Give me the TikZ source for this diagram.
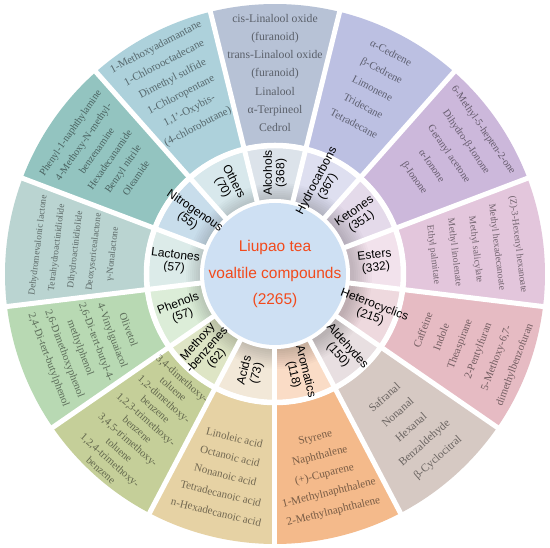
\documentclass[tikz,border=0pt]{standalone}
\usepackage{fontspec}
\setmainfont{Liberation Serif}
\newfontfamily\arialf{Liberation Sans}
\definecolor{aloO}{HTML}{B7C2D6}\definecolor{aloM}{HTML}{DCE3EA}
\definecolor{hyO}{HTML}{BCC0E2}\definecolor{hyM}{HTML}{DEDFF0}
\definecolor{keO}{HTML}{CCB8DB}\definecolor{keM}{HTML}{E4DAEA}
\definecolor{esO}{HTML}{E3C6DC}\definecolor{esM}{HTML}{F2E2EC}
\definecolor{heO}{HTML}{E6BBC3}\definecolor{heM}{HTML}{EED9DE}
\definecolor{alO}{HTML}{D6C9C3}\definecolor{alM}{HTML}{E8DFE1}
\definecolor{arO}{HTML}{F4BA8B}\definecolor{arM}{HTML}{FADCC6}
\definecolor{acO}{HTML}{E6D2A4}\definecolor{acM}{HTML}{F2E8D8}
\definecolor{meO}{HTML}{C5CF99}\definecolor{meM}{HTML}{DEE5C5}
\definecolor{phO}{HTML}{B8D9B3}\definecolor{phM}{HTML}{DCEDD8}
\definecolor{laO}{HTML}{BAD4D1}\definecolor{laM}{HTML}{DCEBE9}
\definecolor{niO}{HTML}{93C4C0}\definecolor{niM}{HTML}{C8DDEB}
\definecolor{otO}{HTML}{ADD1DB}\definecolor{otM}{HTML}{D8E8EC}
\definecolor{cenC}{HTML}{CEE0F3}
\definecolor{cenT}{HTML}{F24A1C}
\begin{document}
\begin{tikzpicture}[x=1pt,y=1pt,
  otxt/.style 2 args={font=\fontsize{#1}{#2}\selectfont, text=black, text opacity=0.5, align=center, inner sep=0pt},
  mtxt/.style={font=\arialf\fontsize{12}{12.5}\selectfont, align=center, inner sep=0pt, text=black}]
\useasboundingbox (-275,-274) rectangle (275,274);
\fill[white] (-275,-274) rectangle (275,274);
% sectors
\foreach \k/\oc/\mc in {0/aloO/aloM,1/hyO/hyM,2/keO/keM,3/esO/esM,4/heO/heM,5/alO/alM,6/arO/arM,7/acO/acM,8/meO/meM,9/phO/phM,10/laO/laM,11/niO/niM,12/otO/otM}{
  \pgfmathsetmacro\sa{90-\k*360/13-180/13}
  \pgfmathsetmacro\ea{90-\k*360/13+180/13}
  \fill[\oc] (\sa:131) arc[start angle=\sa,end angle=\ea,radius=131] -- (\ea:270) arc[start angle=\ea,end angle=\sa,radius=270] -- cycle;
  \fill[\mc] (\sa:75) arc[start angle=\sa,end angle=\ea,radius=75] -- (\ea:126) arc[start angle=\ea,end angle=\sa,radius=126] -- cycle;
}
% soft drop shadow of the centre disc (offset to the right)
\foreach \i in {1,...,10}{\fill[black, opacity=0.02] (4,-2) circle ({73+\i*2});}
% white gaps
\foreach \k in {0,...,12}{
  \pgfmathsetmacro\sa{90-\k*360/13+180/13}
  \draw[white, line width=5] (\sa:74) -- (\sa:273);
}
\draw[white, line width=5.5] (0,0) circle (128.5);
\fill[white] (0,0) circle (75);
\fill[cenC] (0,0) circle (71);
% centre text
\node[font=\arialf\fontsize{15.5}{26.5}\selectfont, text=cenT, align=center] (ctr) at (0,0) {Liupao tea\\voaltile compounds\\(2265)};
% middle ring labels
\node[mtxt, rotate=90] (mAlc) at (90:101) {Alcohols\\(368)};
\node[mtxt, rotate=62.31] (mHyd) at (62.31:102) {Hydrocarbons\\(367)};
\node[mtxt, rotate=34.62] (mKet) at (34.62:101) {Ketones\\(351)};
\node[mtxt, rotate=6.92] (mEst) at (6.92:101) {Esters\\(332)};
\node[mtxt, rotate=-20.77] (mHet) at (-20.77:104) {Heterocyclics\\(215)};
\node[mtxt, rotate=-48.46] (mAld) at (-48.46:102) {Aldehydes\\(150)};
\node[mtxt, rotate=-76.15] (mAro) at (-76.15:102) {Aromatics\\(118)};
\node[mtxt, rotate=76.15] (mAci) at (-103.85:101) {Acids\\(73)};
\node[mtxt, rotate=48.46] (mMet) at (-131.54:102) {Methoxy\\-benzenes\\(62)};
\node[mtxt, rotate=20.77] (mPhe) at (-159.23:101) {Phenols\\(57)};
\node[mtxt, rotate=-6.92] (mLac) at (173.08:101) {Lactones\\(57)};
\node[mtxt, rotate=-34.62] (mNit) at (145.38:102) {Nitrogenous\\(55)};
\node[mtxt, rotate=-62.31] (mOth) at (117.69:101) {Others\\(70)};
% outer ring lists
\node[otxt={11.7}{18.2}, rotate=0] (oAlc) at (90:201) {cis-Linalool oxide\\(furanoid)\\trans-Linalool oxide\\(furanoid)\\Linalool\\α-Terpineol\\Cedrol};
\node[otxt={10.8}{20}, rotate=-27.69] (oHyd) at (62.31:210) {α-Cedrene\\β-Cedrene\\Limonene\\Tridecane\\Tetradecane};
\node[otxt={10.3}{21}, rotate=-55.38] (oKet) at (34.62:211) {6-Methyl-5-hepten-2-one\\Dihydro-β-Ionone\\Geranyl acetone\\α-Ionone\\β-Ionone};
\node[otxt={9.6}{21.3}, rotate=-83.08] (oEst) at (6.92:202) {(Z)-3-Hexenyl hexanoate\\Methyl hexadecanoate\\Methyl salicylate\\Methyl linolenate\\Ethyl palmitate};
\node[otxt={10.8}{19.5}, rotate=69.23] (oHet) at (-20.77:208) {Caffeine\\Indole\\Theaspirane\\2-Pentylfuran\\5-Methoxy-6,7-\\dimethylbenzofuran};
\node[otxt={11.3}{20}, rotate=41.54] (oAld) at (-48.46:206) {Safranal\\Nonanal\\Hexanal\\Benzaldehyde\\β-Cyclocitral};
\node[otxt={11.2}{19}, rotate=13.85] (oAro) at (-76.15:207) {Styrene\\Naphthalene\\(+)-Cuparene\\1-Methylnaphthalene\\2-Methylnaphthalene};
\node[otxt={11}{19.2}, rotate=-13.85] (oAci) at (-103.85:207) {Linoleic acid\\Octanoic acid\\Nonanoic acid\\Tetradecanoic acid\\n-Hexadecanoic acid};
\node[otxt={10.6}{13.6}, rotate=-41.54] (oMet) at (-131.54:201) {3,4-dimethoxy-\\toluene\\1,2-dimethoxy-\\benzene\\1,2,3-trimethoxy-\\benzene\\3,4,5-trimethoxy-\\toluene\\1,2,4-trimethoxy-\\benzene};
\node[otxt={10.6}{17}, rotate=-69.23] (oPhe) at (-159.23:200) {Olivetol\\4-Vinylguaiacol\\2,6-Di-tert-butyl-4-\\methylphenol\\2,6-Dimethoxyphenol\\2,4-Di-tert-butylphenol};
\node[otxt={9.3}{18.75}, rotate=83.08] (oLac) at (173.08:201) {Dehydromevalonic lactone\\Tetrahydroactinidiolide\\Dihydroactinidiolide\\Deoxysericealactone\\γ-Nonalactone};
\node[otxt={10.2}{16}, rotate=55.38] (oNit) at (145.38:209) {Phenyl-1-naphthylamine\\4-Methoxy-N-methyl-\\benzenamine\\Hexadecanamide\\Benzyl nitrile\\Oleamide};
\node[otxt={11}{18}, rotate=27.69] (oOth) at (117.69:211) {1-Methoxyadamantane\\1-Chlorooctadecane\\Dimethyl sulfide\\1-Chloropentane\\1,1'-Oxybis-\\(4-chlorobutane)};
\end{tikzpicture}
\end{document}
